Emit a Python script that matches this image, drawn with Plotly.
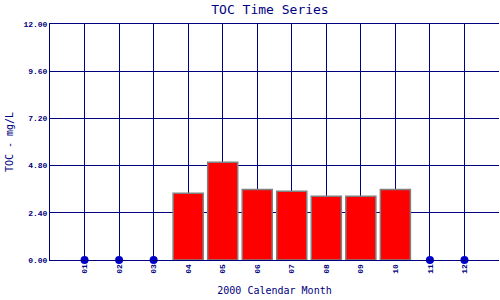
import plotly.graph_objects as go

months = [1, 2, 3, 4, 5, 6, 7, 8, 9, 10, 11, 12]
month_labels = ["01", "02", "03", "04", "05", "06", "07", "08", "09", "10", "11", "12"]
toc_values = [None, None, None, 3.39, 4.97, 3.59, 3.49, 3.24, 3.24, 3.59, None, None]
y_ticks = [0.0, 2.4, 4.8, 7.2, 9.6, 12.0]

navy = "#000080"

bar_x = [m for m, v in zip(months, toc_values) if v is not None]
bar_y = [v for v in toc_values if v is not None]
nd_x = [m for m, v in zip(months, toc_values) if v is None]
nd_y = [0 for v in toc_values if v is None]

fig = go.Figure()
fig.add_trace(go.Bar(
    x=bar_x, y=bar_y, width=0.87,
    marker=dict(color="#FF0000", line=dict(color="#808080", width=1.5)),
))
fig.add_trace(go.Scatter(
    x=nd_x, y=nd_y, mode="markers",
    marker=dict(color="#0000CC", size=8), cliponaxis=False,
))

fig.update_layout(
    width=500, height=300,
    margin=dict(l=50, r=1, t=24, b=40),
    paper_bgcolor="white", plot_bgcolor="white",
    showlegend=False,
    title=dict(text="TOC Time Series", x=0.54, xanchor="center", y=0.985, yanchor="top",
               font=dict(family="DejaVu Sans Mono", size=13, color=navy)),
    xaxis=dict(
        range=[0, 13], tickvals=months, ticktext=month_labels, tickangle=-90,
        showgrid=True, gridcolor=navy, gridwidth=1,
        showline=True, linecolor=navy, linewidth=1, mirror=True,
        ticks="", zeroline=False,
        tickfont=dict(family="Liberation Mono", size=8, color=navy, weight="bold"),
        title=dict(text="2000 Calendar Month", standoff=14,
                   font=dict(family="DejaVu Sans Mono", size=10, color=navy)),
    ),
    yaxis=dict(
        range=[0, 12], tickvals=y_ticks, ticktext=[f"{v:.2f}" for v in y_ticks],
        showgrid=True, gridcolor=navy, gridwidth=1,
        showline=True, linecolor=navy, linewidth=1,
        ticks="", zeroline=False,
        tickfont=dict(family="Liberation Mono", size=8, color=navy, weight="bold"),
        title=dict(text="TOC - mg/L", standoff=7,
                   font=dict(family="DejaVu Sans Mono", size=10, color=navy)),
    ),
)

fig.write_html("out.html")
